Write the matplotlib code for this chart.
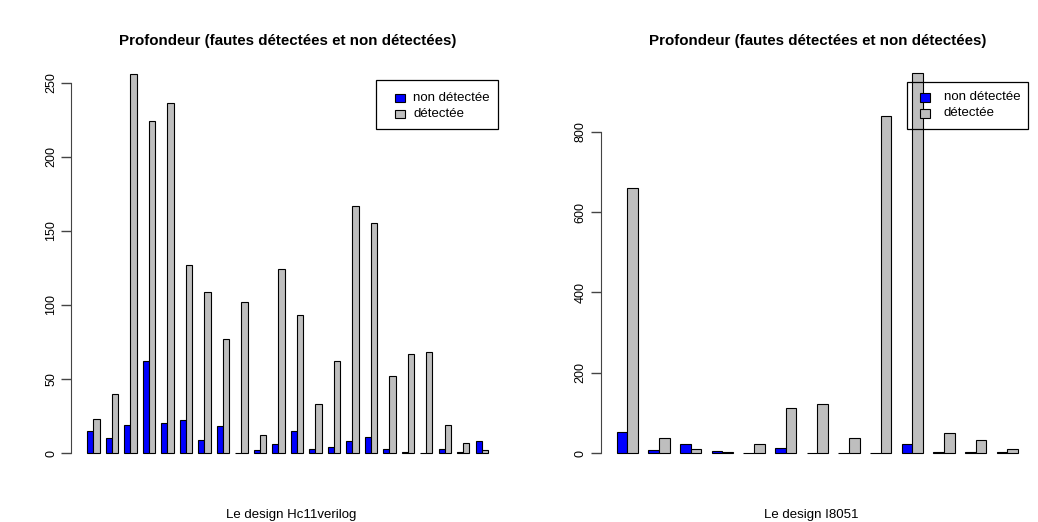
import matplotlib
matplotlib.use("Agg")
import matplotlib.pyplot as plt
from matplotlib.patches import Rectangle
import numpy as np

plt.rcParams['font.family'] = ['Liberation Sans', 'DejaVu Sans']

# Hc11verilog design: undetected / detected faults per depth
hc11_non_detectee = [15, 10, 19, 62, 20, 22, 9, 18, 0, 2, 6, 15, 3, 4, 8, 11, 3, 1, 0, 3, 1, 8]
hc11_detectee = [23, 40, 256, 224, 236, 127, 109, 77, 102, 12, 124, 93, 33, 62, 167, 155, 52, 67, 68, 19, 7, 2]

# I8051 design
i8051_non_detectee = [52, 9, 22, 6, 0, 13, 0, 0, 0, 24, 2, 2, 4]
i8051_detectee = [659, 37, 11, 4, 24, 112, 122, 37, 839, 945, 50, 33, 11]

titre = "Profondeur (fautes détectées et non détectées)"
labels = ["non détectée", "détectée"]
colors = ["#0000FF", "#BEBEBE"]

W, H = 1038, 522
fig = plt.figure(figsize=(W / 100, H / 100), dpi=100)


def px(x, y):
    # pixel position (from top left) -> figure fraction
    return x / W, 1 - y / H


def legend_box(box, key_x, text_x, rows_y):
    # R style legend, transparent background
    bx0, by0, bx1, by1 = box
    fig.patches.append(Rectangle(px(bx0, by1), (bx1 - bx0) / W, (by1 - by0) / H,
                                 transform=fig.transFigure, fill=False,
                                 edgecolor='black', linewidth=0.9, zorder=5))
    for lab, col, ry in zip(labels, colors, rows_y):
        fig.patches.append(Rectangle(px(key_x, ry + 4), 10 / W, 8 / H,
                                     transform=fig.transFigure, facecolor=col,
                                     edgecolor='black', linewidth=0.8, zorder=5))
        fig.text(*px(text_x, ry), lab, ha='left', va='center', fontsize=9.5, zorder=6)


def barplot(rect, non_det, det, yticks, xlab, xlab_x):
    x0, x1, top, bottom = rect
    ax = fig.add_axes([x0 / W, 1 - bottom / H, (x1 - x0) / W, (bottom - top) / H])
    n = len(det)
    left = 1 + 3 * np.arange(n)
    ax.bar(left, non_det, width=1, align='edge', color=colors[0],
           edgecolor='black', linewidth=0.8)
    ax.bar(left + 1, det, width=1, align='edge', color=colors[1],
           edgecolor='black', linewidth=0.8)
    # R style 4% axis extension
    xr = 3 * n - 1
    ax.set_xlim(1 - 0.04 * xr, 3 * n + 0.04 * xr)
    ymax = max(max(det), max(non_det))
    ax.set_ylim(-0.04 * ymax, ymax * 1.04)
    for s in ['top', 'right', 'bottom']:
        ax.spines[s].set_visible(False)
    ax.spines['left'].set_bounds(yticks[0], yticks[-1])
    ax.spines['left'].set_color('#444444')
    ax.set_xticks([])
    ax.set_yticks(yticks)
    ax.tick_params(axis='y', length=7, width=1, color='#444444', labelsize=9,
                   labelrotation=90, pad=3)
    for t in ax.get_yticklabels():
        t.set_va('center')
    fig.text(*px((x0 + x1) / 2, 41), titre, ha='center', va='center',
             fontsize=10.9, fontweight='bold')
    fig.text(*px(xlab_x, 515), xlab, ha='center', va='center', fontsize=9.5)
    return ax


barplot((71.3, 504, 58.7, 468.2), hc11_non_detectee, hc11_detectee,
        [0, 50, 100, 150, 200, 250], "Le design Hc11verilog", 291.5)
barplot((600.7, 1034, 58.2, 468.5), i8051_non_detectee, i8051_detectee,
        [0, 200, 400, 600, 800], "Le design I8051", 811)

legend_box((376, 80, 498, 129), 395, 413, (98, 114))
legend_box((907, 82, 1028, 129), 920, 944, (97.5, 113.5))

fig.savefig("out.png", dpi=100)
